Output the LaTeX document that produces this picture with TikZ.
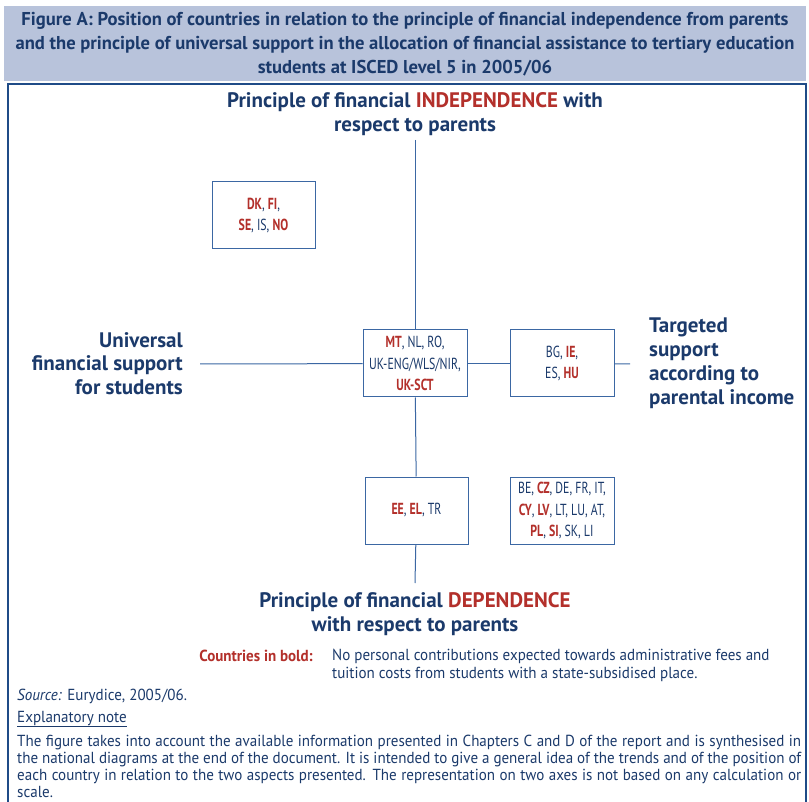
\documentclass[tikz,border=0pt]{standalone}
\usepackage{fontspec}
\setmainfont{PT Sans}
\newfontfamily\condf[FakeStretch=0.74]{PT Sans}
\newfontfamily\textf[FakeStretch=0.94]{PT Sans}
\definecolor{navy}{HTML}{1B3A6B}
\definecolor{cred}{HTML}{B3302B}
\definecolor{boxc}{HTML}{3B67A3}
\definecolor{headfill}{HTML}{B8C3DB}
\definecolor{framec}{HTML}{1F4B87}
\newcommand\rb[1]{\textcolor{cred}{\bfseries #1}}
\tikzset{
  cbox/.style={draw=boxc, line width=1pt, fill=white, minimum width=104pt, minimum height=67pt,
    inner sep=0pt, align=center, text=navy, font=\condf\fontsize{16}{21.5}\selectfont},
  axis/.style={draw=boxc, line width=1pt},
  biglabel/.style={text=navy, font=\bfseries\fontsize{21}{24.5}\selectfont, inner sep=0pt},
  smalltext/.style={inner sep=0pt, text=navy, font=\textf\fontsize{16}{17.6}\selectfont},
}
\begin{document}
\begin{tikzpicture}[x=1pt,y=-1pt]
\useasboundingbox (0,0) rectangle (809,802);
\fill[white] (0,0) rectangle (809,802);
% header
\fill[headfill] (4,6) rectangle (806,81);
\node[text=navy, align=center, inner sep=0pt, font=\bfseries\fontsize{18.6}{24}\selectfont] (title) at (405,44.5)
 {Figure A: Position of countries in relation to the principle of financial independence from parents\\
  and the principle of universal support in the allocation of financial assistance to tertiary education\\
  students at ISCED level 5 in 2005/06};
% frame
\draw[framec, line width=2pt] (8,810) -- (8,84) -- (806,84) -- (806,810);
% axes labels
\node[biglabel, align=center] (toplab) at (415,114) {Principle of financial \textcolor{cred}{INDEPENDENCE} with\\ respect to parents};
\node[biglabel, align=center] (botlab) at (415,614) {Principle of financial \textcolor{cred}{DEPENDENCE}\\ with respect to parents};
\node[biglabel, align=right, anchor=east, font=\bfseries\fontsize{21}{23.5}\selectfont] (leftlab) at (183,363.5) {Universal\\ financial support\\ for students};
\node[biglabel, align=left, anchor=west, font=\bfseries\fontsize{21}{24}\selectfont] (rightlab) at (649,363) {Targeted\\ support\\ according to\\ parental income};
% coordinates
\coordinate (vt) at (415,140);
\coordinate (vb) at (415,583);
\coordinate (hl) at (200,364);
\coordinate (hr) at (630,364);
% boxes
\node[cbox] (mt) at (415,363.5) {\rb{MT}, NL, RO,\\ UK-ENG/WLS/NIR,\\ \rb{UK-SCT}};
\node[cbox] (bg) at (562,363.5) {BG, \rb{IE},\\ ES, \rb{HU}};
\node[cbox, minimum width=103pt] (dk) at (263.5,215.5) {\rb{DK}, \rb{FI},\\ \rb{SE}, IS, \rb{NO}};
\node[cbox, minimum width=103pt] (ee) at (416.5,510.5) {\rb{EE}, \rb{EL}, TR};
\node[cbox] (be) at (562,510.5) {BE, \rb{CZ}, DE, FR, IT,\\ \rb{CY}, \rb{LV}, LT, LU, AT,\\ \rb{PL}, \rb{SI}, SK, LI};
% connectors
\draw[axis] (vt) -- (mt);
\draw[axis] (mt) -- (ee);
\draw[axis] (ee) -- (vb);
\draw[axis] (hl) -- (mt);
\draw[axis] (mt) -- (bg);
\draw[axis] (bg) -- (hr);
% legend
\node[smalltext, anchor=base east, text=cred, font=\textf\bfseries\fontsize{16}{17.6}\selectfont] (legk) at (313,661) {Countries in bold:};
\node[smalltext, anchor=north west, align=left] (legv) at (332,0 |- legk.north)
 {No personal contributions expected towards administrative fees and\\ tuition costs from students with a state-subsidised place.};
% footer
\node[smalltext, anchor=base west] (src) at (17,700) {\textit{Source:} Eurydice, 2005/06.};
\node[smalltext, anchor=base west] (expl) at (17,722) {\underline{Explanatory note}};
\node[smalltext, anchor=north west, text width=784pt, align=justify, font=\textf\fontsize{16}{17.3}\selectfont] (para) at (17,734.5)
 {The figure takes into account the available information presented in Chapters C and D of the report and is synthesised in the national diagrams at the end of the document. It is intended to give a general idea of the trends and of the position of each country in relation to the two aspects presented. The representation on two axes is not based on any calculation or scale.};
\end{tikzpicture}
\end{document}
